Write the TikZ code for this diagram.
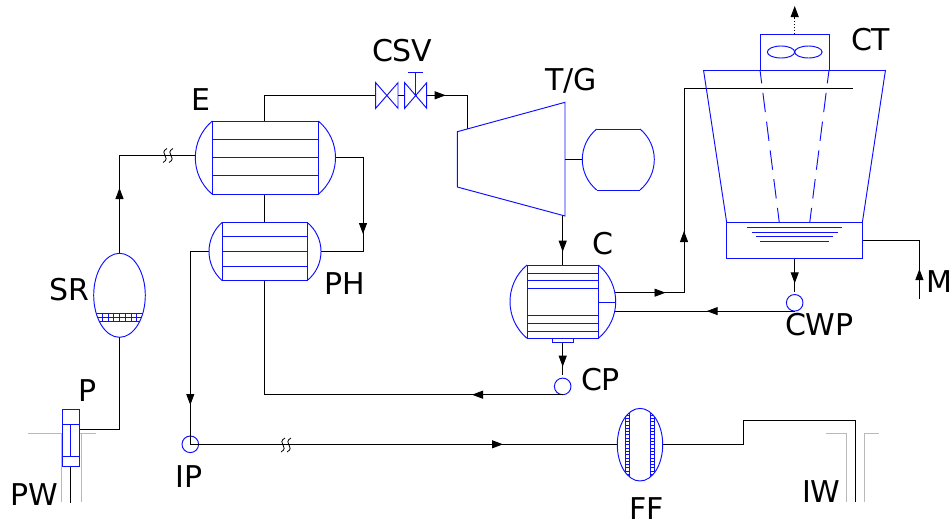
\documentclass[tikz,border=0pt]{standalone}
\usepackage{fontspec}
\setmainfont{DejaVu Sans}
\usetikzlibrary{arrows.meta}
\definecolor{eqblue}{RGB}{15,15,255}
\definecolor{wellgray}{RGB}{185,185,185}
\newcommand\vesselhead[4]{%
  \pgfmathsetmacro\vhc{(#3-#2)/2}%
  \pgfmathsetmacro\vhb{abs(#4)}%
  \pgfmathsetmacro\vhphi{2*atan(\vhb/\vhc)}%
  \pgfmathsetmacro\vhr{(\vhc*\vhc+\vhb*\vhb)/(2*\vhb)}%
  \pgfmathsetmacro\vhh{4/3*tan(\vhphi/2)*\vhr}%
  \pgfmathsetmacro\vhdx{\vhh*sin(\vhphi)*(#4)/\vhb}%
  \pgfmathsetmacro\vhdy{\vhh*cos(\vhphi)}%
  \draw[equip] (#1,#2) .. controls ({#1+\vhdx},{#2+\vhdy}) and ({#1+\vhdx},{#3-\vhdy}) .. (#1,#3);%
}
\newcommand\pipebreak[2]{%
  \foreach \bo in {-3,3}{%
    \draw[breakline] ({#1+\bo+2},{#2-7}) .. controls ({#1+\bo-7},{#2-2}) and ({#1+\bo+7},{#2+2}) .. ({#1+\bo-2},{#2+7});%
  }%
}
\tikzset{
  x=1pt,y=-1pt,
  equip/.style={draw=eqblue,line width=0.95pt},
  pipe/.style={draw=black,line width=0.95pt},
  breakline/.style={draw=black,line width=0.8pt},
  well/.style={draw=wellgray,line width=1pt},
  flow/.style={pipe,-{Triangle[length=11pt,width=8pt]}},
  tag/.style={anchor=base west,inner sep=0pt,outer sep=0pt,font=\fontsize{30}{32}\selectfont,text=black},
  pump/.style={circle,draw=eqblue,line width=0.95pt,minimum size=16.6pt,inner sep=0pt,outer sep=0pt},
}
\begin{document}
\begin{tikzpicture}
\useasboundingbox (0,0) rectangle (952,525);
\fill[white] (0,0) rectangle (952,525);

% --- wells (grey)
\draw[well] (28.3,433.7) -- (62,433.7);
\draw[well] (80,433.7) -- (95.7,433.7);
\draw[well] (61.7,433.7) -- (61.7,502.3);
\draw[well] (81,433.7) -- (81,502.3);
\draw[well] (826,433.7) -- (846.7,433.7) -- (846.7,501.7);
\draw[well] (878.7,433.7) -- (864.3,433.7) -- (864.3,501.7);

% --- named connection points
\coordinate (Etop) at (264.7,121);
\coordinate (Ebot) at (264.7,194.3);
\coordinate (Eleft) at (195.3,155.5);
\coordinate (Eright) at (335.5,157.5);
\coordinate (PHtop) at (264.7,222.3);
\coordinate (PHbot) at (264.7,280.7);
\coordinate (PHleft) at (209,251.5);
\coordinate (PHright) at (321,251.5);
\coordinate (Vin) at (375.7,95.3);
\coordinate (Vout) at (426.7,95.3);
\coordinate (Tin) at (467.7,129);
\coordinate (Tout) at (565,159.5);
\coordinate (Gin) at (582.3,159.5);
\coordinate (Tbot) at (562.7,216);
\coordinate (Ctop) at (562.7,265);
\coordinate (Cbot) at (562.7,342.3);
\coordinate (Cout) at (615,292.7);
\coordinate (Cin) at (615,311.1);
\coordinate (Spray) at (853,88.7);
\coordinate (Bbot) at (794.7,258.3);
\coordinate (Bright) at (862.3,240.7);
\coordinate (Mend) at (919.4,299);
\coordinate (SRtop) at (119.5,253.3);
\coordinate (SRbot) at (119.5,337.3);
\coordinate (Pout) at (79.7,429.7);
\coordinate (FFl) at (617.3,444.3);
\coordinate (FFr) at (662.7,444.3);
\coordinate (IWend) at (855.3,501.7);
\coordinate (Ptop) at (70.7,466.3);
\coordinate (Pend) at (70.7,502.5);
\coordinate (Fan) at (794.7,34);
\coordinate (Exh) at (794.7,6);

% --- pipes
\draw[pipe] (SRbot) -- (119.5,429.7) -- (Pout);
\draw[pipe] (Ptop) -- (Pend);
\draw[pipe] (SRtop) -- (119.5,155.5) -- (Eleft);
\draw[flow] (119.5,210) -- (119.5,188);
\pipebreak{168}{155.5}
\draw[pipe] (Etop) -- (264.7,95.3) -- (Vin);
\draw[pipe] (Ebot) -- (PHtop);
\draw[pipe] (Eright) -- (363,157.5) -- (363,251.5) -- (PHright);
\draw[flow] (363,215) -- (363,234);
\draw[pipe] (398,95.3) -- (404.7,95.3);
\draw[pipe] (Vout) -- (467.7,95.3) -- (Tin);
\draw[flow] (430,95.3) -- (445.7,95.3);
\draw[pipe] (Tout) -- (Gin);
\draw[pipe] (Tbot) -- (Ctop);
\draw[flow] (562.7,235) -- (562.7,251.7);
\draw[pipe] (Cout) -- (684,292.7) -- (684,88.7) -- (Spray);
\draw[flow] (640,292.7) -- (665.5,292.7);
\draw[flow] (684,255) -- (684,231);

% pumps
\node[pump] (CWP) at (794.7,302.8) {};
\node[pump] (CP) at (562.7,386.4) {};
\node[pump] (IP) at (190.3,444.3) {};

\draw[pipe] (Bbot) -- ([yshift=3pt]CWP.north);
\draw[flow] (794.7,262) -- (794.7,283.3);
\draw[pipe] (CWP.south) -- (Cin);
\draw[flow] (735,311.1) -- (706.7,311.1);
\draw[pipe] (Bright) -- (919.4,240.7) -- (Mend);
\draw[flow] (919.4,292) -- (919.4,269);
\draw[pipe] (Cbot) -- ([yshift=3pt]CP.north);
\draw[flow] (562.7,350) -- (562.7,366.7);
\draw[pipe] (CP.south) -- (CP.south -| PHbot) -- (PHbot);
\draw[flow] (500,394.7) -- (472,394.7);
\draw[pipe] (PHleft) -- (190.3,251.5) -- (IP.center);
\draw[flow] (190.3,385) -- (190.3,405);
\draw[pipe] (IP.center) -- (FFl);
\draw[flow] (470,444.3) -- (503,444.3);
\pipebreak{286}{445}
\draw[pipe] (FFr) -- (743.3,444.3) -- (743.3,420) -- (855.3,420) -- (IWend);
\draw[pipe,dotted,line width=1.1pt] (Fan) -- (794.7,14);
\draw[flow] (794.7,18) -- (Exh);

% --- E
\draw[equip] (212.3,121) rectangle (318.3,194.3);
\foreach \yy in {139.3,157.3,175.7} \draw[equip] (212.3,\yy) -- (318.3,\yy);
\vesselhead{212.3}{121}{194.3}{-17}
\vesselhead{318.3}{121}{194.3}{17.2}

% --- PH
\draw[equip] (222.3,222.3) rectangle (307,280.7);
\foreach \yy in {236.7,251.3,266} \draw[equip] (222.3,\yy) -- (307,\yy);
\vesselhead{222.3}{222.3}{280.7}{-13.3}
\vesselhead{307}{222.3}{280.7}{14}

% --- valves
\draw[equip] (375.7,82.7) -- (398,108.3) -- (398,82.7) -- (375.7,108.3) -- cycle;
\draw[equip] (404.7,82.7) -- (426.7,108.3) -- (426.7,82.7) -- (404.7,108.3) -- cycle;
\draw[equip] (415.7,95.3) -- (415.7,72.7);
\draw[equip] (408,72.7) -- (422.7,72.7);

% --- turbine / generator
\draw[equip] (457.3,131.7) -- (565,102.3) -- (565,216) -- (457.3,187) -- cycle;
\draw[equip] (596.7,129) -- (640,129);
\draw[equip] (596.7,190) -- (640,190);
\vesselhead{596.7}{129}{190}{-14.4}
\vesselhead{640}{129}{190}{14.3}

% --- condenser
\draw[equip] (527,265) rectangle (598.3,338.3);
\foreach \yy in {273,280.3,288,315.7,323,331} \draw[equip] (527,\yy) -- (598.3,\yy);
\vesselhead{527}{265}{338.3}{-17}
\vesselhead{598.3}{265}{338.3}{17.4}
\draw[equip] (598.3,302) -- (615.7,302);
\draw[equip] (552.3,338.3) rectangle (573,342.3);

% --- cooling tower
\draw[equip] (760,34) rectangle (829,70);
\draw[equip] (781,52) ellipse [x radius=13.7,y radius=6];
\draw[equip] (808.4,52) ellipse [x radius=13.7,y radius=6];
\draw[equip] (703.5,70) -- (885.5,70);
\draw[equip] (703.5,70) -- (726.7,222.7);
\draw[equip] (885.5,70) -- (862.3,222.7);
\draw[equip,dash pattern=on 19.5pt off 9.5pt,dash phase=6pt] (760,70) -- (779.3,222.7);
\draw[equip,dash pattern=on 19.5pt off 9.5pt,dash phase=6pt] (829,70) -- (809.7,222.7);
\draw[equip] (726.7,222.7) rectangle (862.3,258.3);
\draw[equip] (746.7,227.3) -- (842,227.3);
\draw[equip] (751.7,232) -- (838,232);
\draw[equip] (756,236.3) -- (833,236.3);
\draw[equip] (760.3,241) -- (828.7,241);

% --- SR
\begin{scope}
\clip (119.5,295.3) ellipse [x radius=25.8,y radius=42];
\foreach \yy in {313.3,317.5,321.7} \draw[equip] (90,\yy) -- (150,\yy);
\foreach \xx in {0,...,8} \draw[equip] ({96.7+5.75*\xx},313.3) -- ({96.7+5.75*\xx},321.7);
\end{scope}
\draw[equip] (119.5,295.3) ellipse [x radius=25.8,y radius=42];

% --- P
\draw[equip] (62.7,409) rectangle (79.7,466.3);
\draw[equip] (62.7,424) -- (79.7,424);
\draw[equip] (62.7,456.7) -- (79.7,456.7);
\draw[equip] (70.7,424) -- (70.7,456.7);

% --- FF
\begin{scope}
\clip (640,444.7) ellipse [x radius=22.7,y radius=36.3];
\foreach \xx in {625.7,629.3,650.7,654.3} \draw[equip] (\xx,405) -- (\xx,485);
\foreach \kk in {0,...,22} {
  \draw[equip] (625.7,{408.5+3.3*\kk}) -- (629.3,{408.5+3.3*\kk});
  \draw[equip] (650.7,{408.5+3.3*\kk}) -- (654.3,{408.5+3.3*\kk});
}
\end{scope}
\draw[equip] (640,444.7) ellipse [x radius=22.7,y radius=36.3];

% --- labels
\node[tag] (lCSV) at (372,61.7) {CSV};
\node[tag] (lTG) at (545,90) {T/G};
\node[tag] (lCT) at (851,50.7) {CT};
\node[tag] (lE) at (191.5,110) {E};
\node[tag] (lPH) at (324,294) {PH};
\node[tag] (lC) at (592.5,254) {C};
\node[tag] (lCWP) at (785,335) {CWP};
\node[tag] (lM) at (926,292) {M};
\node[tag] (lCP) at (581,390.7) {CP};
\node[tag] (lSR) at (49,300) {SR};
\node[tag] (lP) at (78,401) {P};
\node[tag] (lPW) at (10,505) {PW};
\node[tag] (lIP) at (175.5,487) {IP};
\node[tag] (lFF) at (629,519) {FF};
\node[tag] (lIW) at (802,502) {IW};
\end{tikzpicture}
\end{document}
